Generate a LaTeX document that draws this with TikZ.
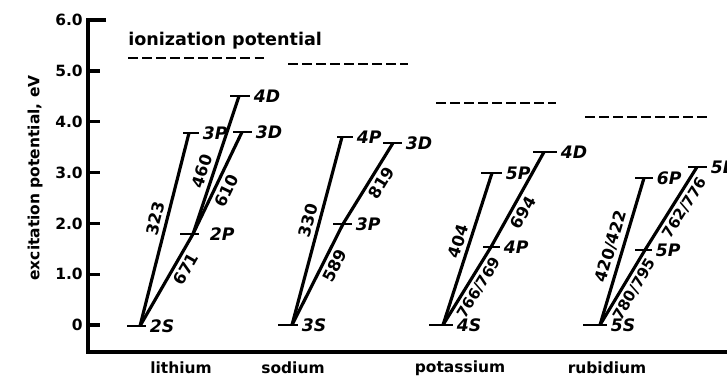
\documentclass[tikz,border=0pt]{standalone}
\usepackage{fontspec}
\setmainfont{DejaVu Sans}
\usetikzlibrary{positioning}
\tikzstyle{axis}=[line width=1.9pt]
\tikzstyle{bar}=[line width=1.5pt]
\tikzstyle{trans}=[line width=1.8pt]
\tikzstyle{ion}=[line width=1.6pt,dash pattern=on 5.5pt off 2.5pt]
\tikzstyle{lvl}=[inner sep=1pt,font=\bfseries\itshape\fontsize{9.8}{11}\selectfont]
\tikzstyle{wl}=[sloped,inner sep=2pt,font=\bfseries\fontsize{9.3}{10}\selectfont]
\tikzstyle{wls}=[sloped,inner sep=2pt,font=\bfseries\fontsize{8.6}{10}\selectfont]
\tikzstyle{elem}=[inner sep=0pt,font=\bfseries\fontsize{8.8}{11}\selectfont]
% level: name, junction x, y, bar left, bar right, label
\newcommand{\level}[6]{%
  \coordinate (#1) at (#2,#3);
  \draw[bar] (#4,#3) -- (#5,#3) coordinate (#1r);
  \node[lvl, right=1pt of #1r] (#1l) {#6};
}

\begin{document}
\begin{tikzpicture}[x=0.02cm,y=-0.02cm]
\useasboundingbox (0,0) rectangle (727,384);
% axes
\draw[axis] (106,20) -- (88,20) -- (88,352) -- (727,352);
\foreach \lab [count=\k from 0] in {0,1.0,2.0,3.0,4.0,5.0} {
  \draw[axis] (88,{325-50.8*\k}) -- ++(12,0);
  \node[elem, anchor=east] (t\k) at (83,{325-50.8*\k}) {\lab};
}
\node[elem, anchor=east] (t6) at (83,20) {6.0};
\node[elem, rotate=90] (ylab) at (35,178) {excitation potential, eV};
% ionization potentials
\node[elem, anchor=base west, font=\bfseries\fontsize{10}{12}\selectfont] (ionlab) at (128,46) {ionization potential};
\draw[ion] (128,58) -- (268,58);
\draw[ion] (288,64) -- (408,64);
\draw[ion] (436,103) -- (556,103);
\draw[ion] (585,117) -- (708,117);
% lithium
\level{li2S}{140}{326}{127}{146}{2S}
\level{li2P}{193}{234}{180}{199}{\hspace{4pt}2P}
\level{li3P}{189}{133}{183}{199}{3P}
\level{li4D}{239}{96}{230}{250}{4D}
\level{li3D}{242}{132}{233}{252}{3D}
\draw[trans] (li2S) -- node[wl, above, pos=.54] {323} (li3P);
\draw[trans] (li2S) -- node[wl, below, pos=.68] {671} (li2P);
\draw[trans] (li2P) -- node[wl, above, pos=.43] {460} (li4D);
\draw[trans] (li2P) -- node[wl, below, pos=.47] {610} (li3D);
% sodium
\level{na3S}{292}{325}{278}{298}{3S}
\level{na3P}{343}{224}{333}{352}{3P}
\level{na4P}{342}{137}{337}{353}{4P}
\level{na3D}{393}{143}{383}{402}{3D}
\draw[trans] (na3S) -- node[wl, above, pos=.54] {330} (na4P);
\draw[trans] (na3S) -- node[wl, below, pos=.64] {589} (na3P);
\draw[trans] (na3P) -- node[wl, below, pos=.58] {819} (na3D);
% potassium
\level{k4S}{443}{325}{429}{453}{4S}
\level{k4P}{491}{247}{483}{500}{4P}
\level{k5P}{492}{173}{481}{502}{5P}
\level{k4D}{544}{152}{533}{557}{4D}
\draw[trans] (k4S) -- node[wl, above, pos=.53] {404} (k5P);
\draw[trans] (k4S) -- node[wls, below, pos=.55] {766/769} (k4P);
\draw[trans] (k4P) -- node[wl, below, pos=.42] {694} (k4D);
% rubidium
\level{rb5S}{600}{325}{583}{607}{5S}
\level{rb5P}{645}{250}{635}{652}{5P}
\level{rb6P}{644}{178}{635}{653}{6P}
\level{rb5D}{697}{167}{688}{707}{5D}
\draw[trans] (rb5S) -- node[wl, above, pos=.51] {420/422} (rb6P);
\draw[trans] (rb5S) -- node[wls, below, pos=.55] {780/795} (rb5P);
\draw[trans] (rb5P) -- node[wls, below, pos=.58] {762/776} (rb5D);
% element names
\node[elem] (li) at (181,368) {lithium};
\node[elem] (na) at (293,368) {sodium};
\node[elem] (k) at (460,368) {potassium};
\node[elem] (rb) at (607,368) {rubidium};
\end{tikzpicture}
\end{document}
